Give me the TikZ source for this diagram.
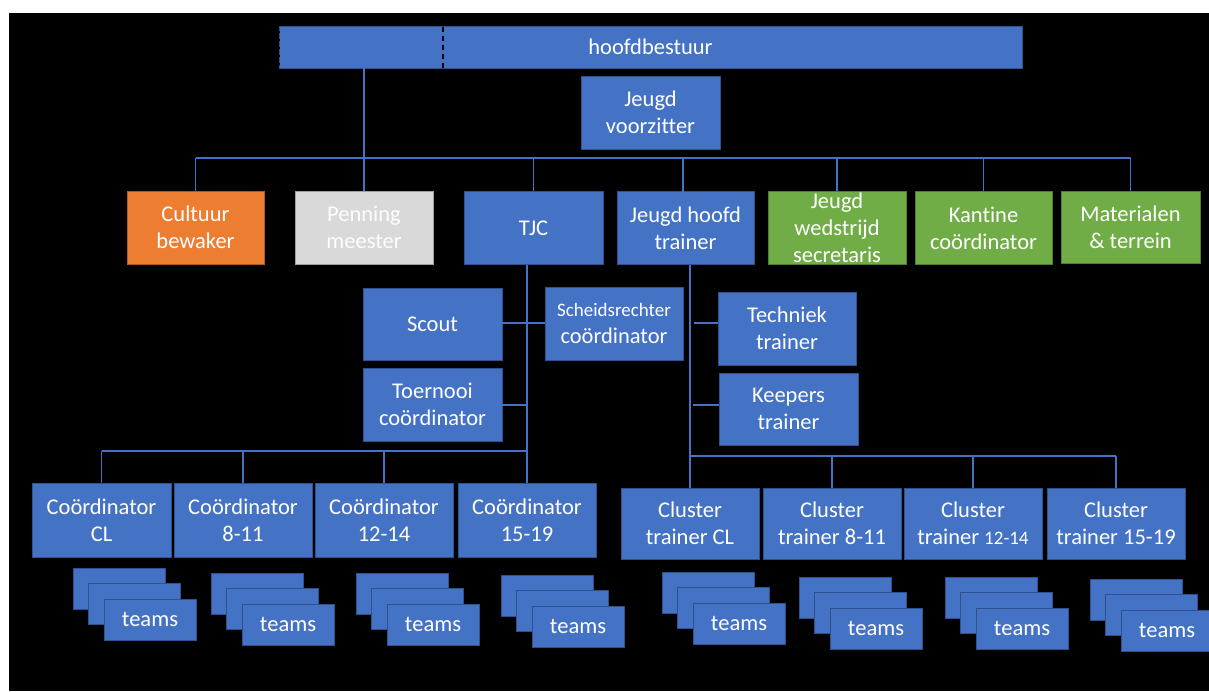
\documentclass[tikz,border=0pt]{standalone}
\usepackage{fontspec}
\setmainfont[Ligatures={NoCommon}]{Carlito}
\definecolor{obl}{HTML}{4472C4}
\definecolor{obd}{HTML}{2F528F}
\definecolor{oor}{HTML}{ED7D31}
\definecolor{oord}{HTML}{AE5A21}
\definecolor{ogr}{HTML}{D9D9D9}
\definecolor{ogrd}{HTML}{A0A0A0}
\definecolor{ogn}{HTML}{70AD47}
\definecolor{ognd}{HTML}{507E32}
\tikzset{
  orgbox/.style={draw=obd, fill=obl, line width=0.8pt, text=white, align=center,
    inner sep=0pt, font=\fontsize{22.5}{27}\selectfont},
  orangebox/.style={orgbox, draw=oord, fill=oor},
  graybox/.style={orgbox, draw=ogrd, fill=ogr, text=white!96!ogr},
  greenbox/.style={orgbox, draw=ognd, fill=ogn},
  conn/.style={draw=obl, line width=1.2pt},
  tbox/.style={orgbox, minimum width=92pt, minimum height=41pt},
}
\newcommand\teamstack[3]{%
  \node[tbox] (#1a) at ({#2+46},{#3+20.5}) {};
  \node[tbox] (#1b) at ({#2+61.5},{#3+36}) {};
  \node[tbox] (#1c) at ({#2+77},{#3+51.5}) {teams};}
\begin{document}
\begin{tikzpicture}[x=1pt,y=-1pt]
\useasboundingbox (0,0) rectangle (1209,691);
\fill[white] (0,0) rectangle (1209,691);
\fill[black] (9,13) rectangle (1209,691);

% top
\node[orgbox, minimum width=743pt, minimum height=42pt] (hb) at (650.5,47) {hoofdbestuur};
\draw[black, line width=1.6pt, dash pattern=on 5pt off 4pt] (443,26.5) -- (443,67.5);
\draw[black, line width=1.2pt, dash pattern=on 2pt off 6pt, dash phase=-4pt] (279,27) -- (279,67);
\node[orgbox, minimum width=139pt, minimum height=73pt] (jv) at (650.5,112.5) {Jeugd\\voorzitter};

% row 2
\node[orangebox, minimum width=137pt, minimum height=73pt] (cult) at (195.5,227.5) {Cultuur\\bewaker};
\node[graybox, minimum width=138pt, minimum height=73pt] (pen) at (364,227.5) {Penning\\meester};
\node[orgbox, minimum width=139pt, minimum height=73pt] (tjc) at (533.5,228) {TJC};
\node[orgbox, minimum width=137pt, minimum height=73pt] (jht) at (685.5,228) {Jeugd hoofd\\trainer};
\node[greenbox, minimum width=138pt, minimum height=73pt] (jws) at (837,228) {Jeugd\\wedstrijd\\secretaris};
\node[greenbox, minimum width=137pt, minimum height=73pt] (kan) at (983.5,228) {Kantine\\coördinator};
\node[greenbox, minimum width=139pt, minimum height=72pt] (mat) at (1130.5,227) {Materialen\\\&{} terrein};

% row 3
\node[orgbox, minimum width=139pt, minimum height=72pt] (scout) at (432.5,324) {Scout};
\node[orgbox, minimum width=138pt, minimum height=73pt] (sch) at (614,323.5) {{\fontsize{19}{27}\selectfont Scheidsrechter}\\coördinator};
\node[orgbox, minimum width=139pt, minimum height=73pt] (toer) at (432.5,404.5) {Toernooi\\coördinator};
\node[orgbox, minimum width=138pt, minimum height=73pt] (tech) at (787,328.5) {Techniek\\trainer};
\node[orgbox, minimum width=139pt, minimum height=72pt] (keep) at (788.5,409) {Keepers\\trainer};

% coordinators
\node[orgbox, minimum width=139pt, minimum height=74pt] (c1) at (101.5,520) {Coördinator\\CL};
\node[orgbox, minimum width=138pt, minimum height=74pt] (c2) at (243,520) {Coördinator\\8-11};
\node[orgbox, minimum width=138pt, minimum height=74pt] (c3) at (384,520) {Coördinator\\12-14};
\node[orgbox, minimum width=138pt, minimum height=74pt] (c4) at (527,520) {Coördinator\\15-19};

% cluster trainers
\node[orgbox, minimum width=138pt, minimum height=71pt] (k1) at (690,523.5) {Cluster\\trainer CL};
\node[orgbox, minimum width=138pt, minimum height=71pt] (k2) at (832,523.5) {Cluster\\trainer 8-11};
\node[orgbox, minimum width=138pt, minimum height=71pt] (k3) at (973,523.5) {Cluster\\trainer {\fontsize{19}{27}\selectfont 12-14}};
\node[orgbox, minimum width=138pt, minimum height=71pt] (k4) at (1116,523.5) {Cluster\\trainer 15-19};

% teams
\teamstack{s1}{73}{568}
\teamstack{s2}{211}{573}
\teamstack{s3}{356}{573}
\teamstack{s4}{501}{575}
\teamstack{s5}{662}{572}
\teamstack{s6}{799}{577}
\teamstack{s7}{945}{577}
\teamstack{s8}{1090}{579}

% connectors
\coordinate (barA) at (0,158);
\draw[conn] (pen.north) -- (pen.north |- hb.south);
\draw[conn] (cult.north |- barA) -- (mat.north |- barA);
\foreach \n in {cult,pen,tjc,jws,kan,mat} {\draw[conn] (\n.north) -- (\n.north |- barA);}
\coordinate (jhtTop) at (683,192);
\draw[conn] (jhtTop) -- (jhtTop |- barA);

\coordinate (tv1) at (527,265);
\coordinate (tv2) at (527,451);
\draw[conn] (tv1) -- (tv2);
\draw[conn] (scout.east |- 0,323) -- (sch.west |- 0,323);
\draw[conn] (toer.east |- 0,405) -- (tv1 |- 0,405);
\draw[conn] (c1.north |- tv2) -- (tv2);
\foreach \n in {c1,c2,c3,c4} {\draw[conn] (\n.north) -- (\n.north |- tv2);}

\coordinate (jv1) at (690,265);
\coordinate (jv2) at (690,456);
\draw[conn] (jv1) -- (jv2);
\coordinate (ts) at (694,323);
\coordinate (ks) at (693,405);
\draw[conn] (ts) -- (ts -| tech.west);
\draw[conn] (ks) -- (ks -| keep.west);
\draw[conn] (jv2) -- (k4.north |- jv2);
\foreach \n in {k1,k2,k3,k4} {\draw[conn] (\n.north) -- (\n.north |- jv2);}
\end{tikzpicture}
\end{document}
